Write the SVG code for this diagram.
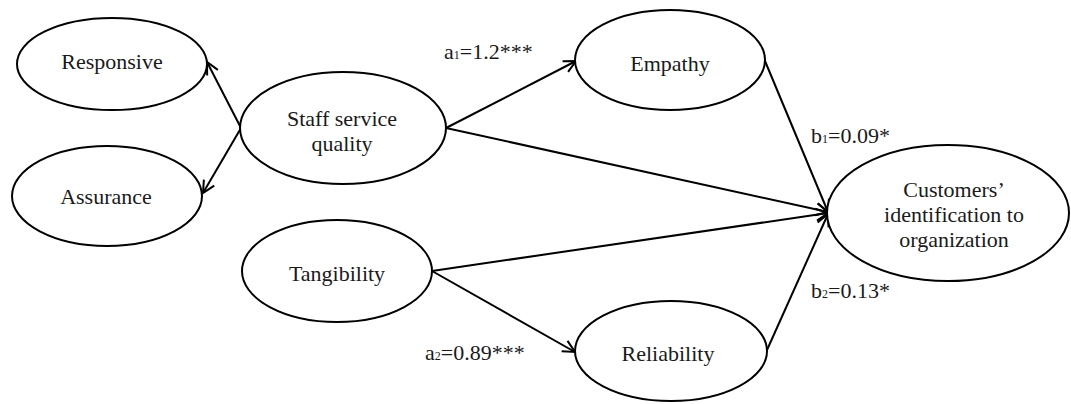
<svg xmlns="http://www.w3.org/2000/svg" width="1071" height="404" viewBox="0 0 1071 404">
<style>
.node ellipse{fill:#fff;stroke:#000;stroke-width:2}
.node text,.lbl{font-family:"Liberation Serif","Times New Roman",serif;font-size:22px;fill:#1a1a1a}
.node text{text-anchor:middle}
.sub{font-size:12px}
#connectors line{stroke:#000;stroke-width:2;fill:none}
</style>
<defs>
<marker id="arr" markerUnits="userSpaceOnUse" markerWidth="16" markerHeight="16" viewBox="0 0 16 16" refX="14" refY="8" orient="auto">
<path d="M2,2 L14,8 L2,14" fill="none" stroke="#000" stroke-width="2"/>
</marker>
</defs>
<rect width="1071" height="404" fill="#fff"/>
<g id="connectors">
<line x1="241" y1="128" x2="207" y2="62" marker-end="url(#arr)"/>
<line x1="241" y1="128" x2="203" y2="193" marker-end="url(#arr)"/>
<line x1="446" y1="128" x2="576" y2="61" marker-end="url(#arr)"/>
<line x1="446" y1="128" x2="828" y2="212" marker-end="url(#arr)"/>
<line x1="765" y1="61" x2="828" y2="212" marker-end="url(#arr)"/>
<line x1="432" y1="271" x2="828" y2="213" marker-end="url(#arr)"/>
<line x1="432" y1="271" x2="575" y2="352" marker-end="url(#arr)"/>
<line x1="767" y1="350" x2="828" y2="214" marker-end="url(#arr)"/>
</g>
<g id="responsive" class="node"><ellipse cx="112" cy="64" rx="95" ry="46"/><text x="112" y="69">Responsive</text></g>
<g id="assurance" class="node"><ellipse cx="107" cy="196" rx="95" ry="50"/><text x="106" y="204">Assurance</text></g>
<g id="staff" class="node"><ellipse cx="343" cy="128" rx="103" ry="56"/><text x="342" y="126">Staff service</text><text x="342" y="151">quality</text></g>
<g id="empathy" class="node"><ellipse cx="670" cy="60" rx="95" ry="50"/><text x="670" y="71">Empathy</text></g>
<g id="tangibility" class="node"><ellipse cx="337" cy="271" rx="95" ry="51"/><text x="337" y="281">Tangibility</text></g>
<g id="reliability" class="node"><ellipse cx="671" cy="351" rx="96" ry="50"/><text x="668" y="361">Reliability</text></g>
<g id="customers" class="node"><ellipse cx="948" cy="213" rx="121" ry="68"/><text x="954" y="197">Customers’</text><text x="954" y="222">identification to</text><text x="954" y="247">organization</text></g>
<g id="labels">
<text class="lbl" x="444" y="59">a<tspan class="sub">1</tspan>=1.2***</text>
<text class="lbl" x="811" y="143">b<tspan class="sub">1</tspan>=0.09*</text>
<text class="lbl" x="811" y="298">b<tspan class="sub">2</tspan>=0.13*</text>
<text class="lbl" x="425" y="360">a<tspan class="sub">2</tspan>=0.89***</text>
</g>
</svg>
